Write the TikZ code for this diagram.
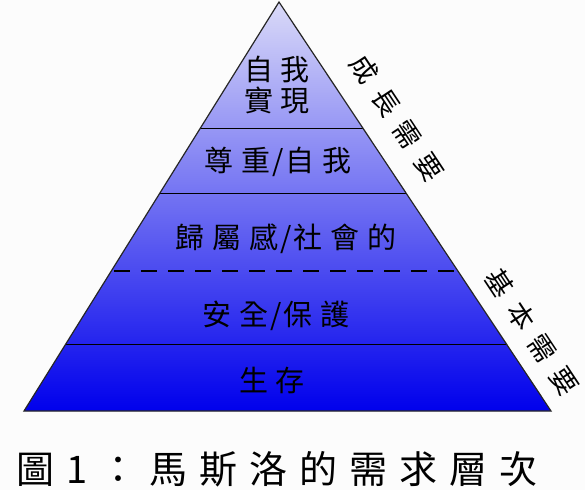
\documentclass[tikz,border=0pt]{standalone}
\usepackage{fontspec}
\newfontfamily\cjk{Noto Sans CJK TC}
\usetikzlibrary{calc}
\makeatletter
\newcommand\spacedtext[2]{\def\my@spc{\hspace{#1}}\my@spacedA#2\relax}
\def\my@spacedA#1#2\relax{#1\my@spacedloop#2\relax}
\def\my@spacedloop#1{\ifx#1\relax\else\my@spc#1\expandafter\my@spacedloop\fi}
\makeatother
\newcommand\slsh{\hspace{2pt}/\hspace{2pt}}
\definecolor{toplav}{RGB}{218,218,248}
\definecolor{botblue}{RGB}{0,0,236}
\definecolor{bgc}{RGB}{252,252,252}
\tikzset{
  layertext/.style={font=\cjk\fontsize{29}{32}\selectfont, text=black, inner sep=0pt},
  sidetext/.style={font=\cjk\fontsize{27}{30}\selectfont, text=black, inner sep=0pt, rotate=-56.5},
  divider/.style={draw=black, line width=1.2pt},
  dashdivider/.style={draw=black, line width=2.2pt, dash pattern=on 16pt off 11pt},
}
\begin{document}
\begin{tikzpicture}[x=1pt,y=-1pt]
\fill[bgc] (0,0) rectangle (585,490);
\useasboundingbox (0,0) rectangle (585,490);
\coordinate (apex) at (279,2);
\coordinate (bl) at (24,411);
\coordinate (br) at (551,411);
\shade[top color=toplav, bottom color=botblue] (apex) -- (bl) -- (br) -- cycle;
% dividers
\foreach \t/\nm in {0.3088/a,0.4681/b,0.6569/c,0.8382/d}{
  \coordinate (l\nm) at ($(apex)!\t!(bl)$);
  \coordinate (r\nm) at ($(apex)!\t!(br)$);
}
\draw[divider] (la) -- (ra);
\draw[divider] (lb) -- (rb);
\draw[dashdivider] ($(lc)+(3,0)$) -- (rc);
\draw[divider] (ld) -- (rd);
\draw[line width=1.2pt, draw=black!85] (apex) -- (bl) -- (br) -- cycle;
% layer texts
\node[layertext] (t1a) at (277,69) {自\hspace{8pt}我};
\node[layertext] (t1b) at (277,100) {實\hspace{8pt}現};
\node[layertext] (t2) at (278,162) {尊\hspace{8pt}重\slsh 自\hspace{8pt}我};
\node[layertext] (t3) at (286,239) {歸\hspace{8pt}屬\hspace{8pt}感\slsh 社\hspace{8pt}會\hspace{8pt}的};
\node[layertext] (t4) at (276,316) {安\hspace{8pt}全\slsh 保\hspace{8pt}護};
\node[layertext] (t5) at (272,380) {生\hspace{8pt}存};
% side labels
\node[sidetext] (s1) at (397,118) {\spacedtext{12pt}{成長需要}};
\node[sidetext] (s2) at (532,332) {\spacedtext{12pt}{基本需要}};
% caption
\node[font=\cjk\fontsize{38}{42}\selectfont, anchor=west, inner sep=0pt] (cap) at (16,469)
  {\spacedtext{12pt}{圖1：馬斯洛的需求層次}};
\end{tikzpicture}
\end{document}
